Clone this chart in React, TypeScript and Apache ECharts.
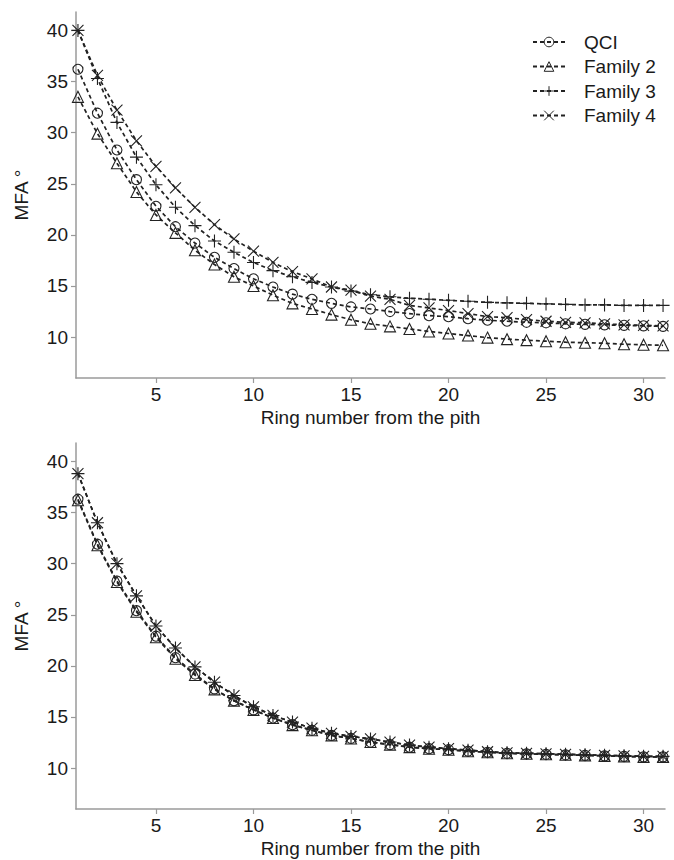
import React, { useEffect, useRef } from "react";
import * as echarts from "echarts";

const rings = [1, 2, 3, 4, 5, 6, 7, 8, 9, 10, 11, 12, 13, 14, 15, 16, 17, 18, 19, 20, 21, 22, 23, 24, 25, 26, 27, 28, 29, 30, 31];
const seriesNames = ["QCI", "Family 2", "Family 3", "Family 4"];
const xTicks = [5, 10, 15, 20, 25, 30];
const yTicks = [10, 15, 20, 25, 30, 35, 40];

// Top panel
const qciTop = [36.2, 31.9, 28.3, 25.4, 22.8, 20.8, 19.2, 17.8, 16.7, 15.7, 14.9, 14.2, 13.7, 13.3, 12.95, 12.75, 12.5, 12.3, 12.1, 12.0, 11.8, 11.65, 11.55, 11.45, 11.4, 11.3, 11.25, 11.2, 11.15, 11.1, 11.05];
const fam2Top = [33.5, 29.9, 27.0, 24.2, 21.95, 20.2, 18.5, 17.1, 15.9, 15.0, 14.1, 13.3, 12.75, 12.2, 11.7, 11.3, 11.05, 10.8, 10.55, 10.35, 10.15, 9.95, 9.8, 9.7, 9.6, 9.5, 9.45, 9.4, 9.3, 9.25, 9.2];
const fam3Top = [40.0, 35.3, 31.0, 27.6, 24.9, 22.7, 20.9, 19.4, 18.3, 17.3, 16.5, 15.9, 15.35, 14.9, 14.5, 14.15, 13.95, 13.8, 13.7, 13.6, 13.5, 13.4, 13.35, 13.3, 13.25, 13.2, 13.15, 13.15, 13.1, 13.1, 13.1];
const fam4Top = [40.0, 35.6, 32.2, 29.2, 26.7, 24.6, 22.7, 21.0, 19.6, 18.4, 17.3, 16.4, 15.7, 14.9, 14.6, 14.0, 13.7, 13.1, 12.85, 12.6, 12.3, 12.0, 11.9, 11.7, 11.55, 11.45, 11.4, 11.3, 11.2, 11.15, 11.1];

// Bottom panel
const qciBot = [36.3, 31.9, 28.3, 25.4, 22.9, 20.8, 19.2, 17.75, 16.6, 15.7, 14.9, 14.25, 13.7, 13.2, 12.9, 12.55, 12.3, 12.05, 11.9, 11.8, 11.65, 11.55, 11.45, 11.4, 11.35, 11.3, 11.25, 11.2, 11.15, 11.1, 11.1];
const fam2Bot = [36.2, 31.8, 28.2, 25.3, 22.8, 20.7, 19.1, 17.7, 16.6, 15.7, 14.9, 14.2, 13.7, 13.2, 12.9, 12.55, 12.3, 12.05, 11.9, 11.8, 11.65, 11.55, 11.45, 11.4, 11.35, 11.3, 11.25, 11.2, 11.15, 11.1, 11.1];
const fam3Bot = [38.8, 34.0, 30.0, 26.85, 23.9, 21.75, 19.9, 18.4, 17.1, 16.0, 15.15, 14.5, 13.9, 13.4, 13.1, 12.85, 12.55, 12.25, 12.05, 11.9, 11.75, 11.6, 11.5, 11.45, 11.4, 11.35, 11.3, 11.25, 11.2, 11.15, 11.15];
const fam4Bot = [38.8, 34.0, 30.0, 26.85, 23.9, 21.75, 19.9, 18.4, 17.1, 16.0, 15.15, 14.5, 13.9, 13.4, 13.1, 12.85, 12.55, 12.25, 12.05, 11.9, 11.75, 11.6, 11.5, 11.45, 11.4, 11.35, 11.3, 11.25, 11.2, 11.15, 11.15];

const FONT = "'Liberation Sans', Arial, Helvetica, sans-serif";
const INK = "#1a1a1a";
const AXIS = "#9a9a9a";

const plusPath = "path://M0,6L12,6M6,0L6,12";
const crossPath = "path://M0,0L11,11M0,11L11,0";

const symbols = [
  { symbol: "circle", size: 10 },
  { symbol: "triangle", size: 11 },
  { symbol: plusPath, size: 13 },
  { symbol: crossPath, size: 11 },
];

function makeSeries(name: string, values: number[], idx: number, axisIdx: number) {
  const s = symbols[idx];
  return {
    type: "line",
    name,
    xAxisIndex: axisIdx,
    yAxisIndex: axisIdx,
    data: rings.map((r, i) => [r, values[i]]),
    symbol: s.symbol,
    symbolSize: s.size,
    showSymbol: true,
    smooth: false,
    lineStyle: { color: "#222", width: 1.7, type: [4, 3] },
    itemStyle: { color: "rgba(255,255,255,0)", borderColor: "#222", borderWidth: 1.1 },
    emphasis: { disabled: true },
    z: 3,
  };
}

function axesFor(gridIndex: number) {
  const x = {
    type: "value",
    gridIndex,
    min: 0.9,
    max: 31.1,
    name: "Ring number from the pith",
    nameLocation: "middle",
    nameGap: 30,
    nameTextStyle: { fontFamily: FONT, fontSize: 19, color: INK },
    axisLine: { show: true, lineStyle: { color: AXIS, width: 1.5 } },
    axisTick: { show: true, inside: false, length: 5, customValues: xTicks, lineStyle: { color: AXIS, width: 1.2 } },
    axisLabel: { customValues: xTicks, margin: 7, fontFamily: FONT, fontSize: 19, color: INK },
    splitLine: { show: false },
  };
  const y = {
    type: "value",
    gridIndex,
    min: 6,
    max: 41.8,
    name: "MFA °",
    nameLocation: "middle",
    nameRotate: 90,
    nameGap: 45,
    nameTextStyle: { fontFamily: FONT, fontSize: 19, color: INK },
    axisLine: { show: true, lineStyle: { color: AXIS, width: 1.5 } },
    axisTick: { show: true, inside: false, length: 5, customValues: yTicks, lineStyle: { color: AXIS, width: 1.2 } },
    axisLabel: { customValues: yTicks, margin: 8, fontFamily: FONT, fontSize: 19, color: INK },
    splitLine: { show: false },
  };
  return { x, y };
}

export default function App() {
  const ref = useRef<HTMLDivElement>(null);
  useEffect(() => {
    if (!ref.current) return;
    const chart = echarts.init(ref.current, undefined, { renderer: "svg" });
    const a0 = axesFor(0);
    const a1 = axesFor(1);
    const topVals = [qciTop, fam2Top, fam3Top, fam4Top];
    const botVals = [qciBot, fam2Bot, fam3Bot, fam4Bot];
    chart.setOption({
      animation: false,
      backgroundColor: "#ffffff",
      textStyle: { fontFamily: FONT },
      grid: [
        { left: 76, top: 12, width: 589, height: 366 },
        { left: 76, top: 443, width: 589, height: 366 },
      ],
      xAxis: [a0.x, a1.x],
      yAxis: [a0.y, a1.y],
      legend: {
        data: seriesNames,
        orient: "vertical",
        left: 527,
        top: 27,
        itemWidth: 32,
        itemHeight: 12,
        itemGap: 4.5,
        selectedMode: false,
        itemStyle: { color: "rgba(255,255,255,0)", borderColor: "#222", borderWidth: 1 },
        textStyle: { fontFamily: FONT, fontSize: 19, color: INK, lineHeight: 20, padding: [0, 0, 0, 14] },
      },
      series: [
        ...seriesNames.map((n, i) => makeSeries(n, topVals[i], i, 0)),
        ...seriesNames.map((n, i) => makeSeries(n, botVals[i], i, 1)),
      ],
    });
    return () => chart.dispose();
  }, []);
  return (
    <div
      ref={ref}
      style={{ position: "fixed", left: 0, top: 0, width: 674, height: 860, background: "#fff" }}
    />
  );
}
